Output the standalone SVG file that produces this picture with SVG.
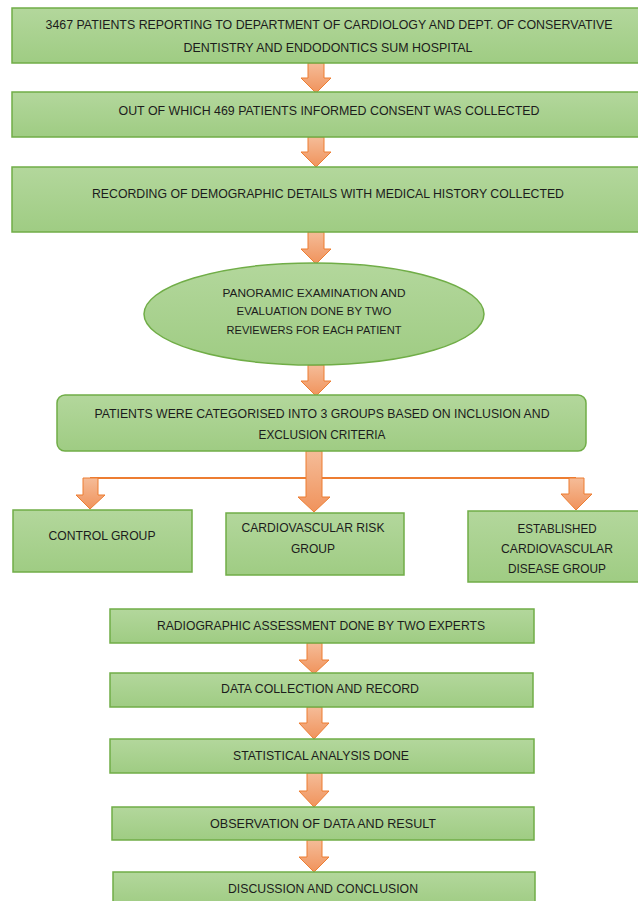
<svg xmlns="http://www.w3.org/2000/svg" width="638" height="901" viewBox="0 0 638 901">
<defs>
<linearGradient id="g" x1="0" y1="0" x2="0" y2="1"><stop offset="0" stop-color="#b3d79c"/><stop offset="1" stop-color="#9fcc83"/></linearGradient>
<linearGradient id="o" x1="0" y1="0" x2="0" y2="1"><stop offset="0" stop-color="#f5bc98"/><stop offset="1" stop-color="#f0935c"/></linearGradient>
<style>
.n{fill:url(#g);stroke:#70ad47;stroke-width:1.5}
.a{fill:url(#o);stroke:#ed7d31;stroke-width:1}
.t{font-family:"Liberation Sans",Arial,sans-serif;font-size:13px;fill:#1c1c1c;text-anchor:middle}
.s{font-size:11.5px}
</style>
</defs>
<rect width="638" height="901" fill="#fff"/>
<g id="connectors">
<path class="a" d="M308 63 H324 V78 H331 L316 93 L301 78 H308 Z"/>
<path class="a" d="M308 137 H324 V152 H331 L316 167 L301 152 H308 Z"/>
<path class="a" d="M308 232 H324 V249 H331 L316 264 L301 249 H308 Z"/>
<path class="a" d="M308 365 H324 V381 H331 L316 396 L301 381 H308 Z"/>
<line x1="90" y1="478" x2="576" y2="478" stroke="#ed7d31" stroke-width="2"/>
<path class="a" d="M306 451 H322 V497 H330 L314 512 L298 497 H306 Z"/>
<path class="a" d="M83 478 H98 V495 H105 L90 509 L76 495 H83 Z"/>
<path class="a" d="M569 478 H584 V494 H592 L576 510 L561 494 H569 Z"/>
<path class="a" d="M307 643 H322 V660 H329 L314 674 L299 660 H307 Z"/>
<path class="a" d="M307 707 H322 V723 H329 L314 739 L299 723 H307 Z"/>
<path class="a" d="M307 773 H322 V791 H329 L314 807 L299 791 H307 Z"/>
<path class="a" d="M307 840 H322 V857 H329 L314 872 L299 857 H307 Z"/>
</g>
<g id="n1"><rect class="n" x="12" y="8" width="630" height="55"/>
<text class="t" x="329" y="29" textLength="567" lengthAdjust="spacingAndGlyphs">3467 PATIENTS REPORTING TO DEPARTMENT OF CARDIOLOGY AND DEPT. OF CONSERVATIVE</text>
<text class="t" x="328" y="52" textLength="289" lengthAdjust="spacingAndGlyphs">DENTISTRY AND ENDODONTICS SUM HOSPITAL</text></g>
<g id="n2"><rect class="n" x="12" y="92" width="630" height="45"/>
<text class="t" x="329" y="115" textLength="421" lengthAdjust="spacingAndGlyphs">OUT OF WHICH 469 PATIENTS INFORMED CONSENT WAS COLLECTED</text></g>
<g id="n3"><rect class="n" x="12" y="167" width="630" height="65"/>
<text class="t" x="328" y="198" textLength="472" lengthAdjust="spacingAndGlyphs">RECORDING OF DEMOGRAPHIC DETAILS WITH MEDICAL HISTORY COLLECTED</text></g>
<g id="n4"><ellipse class="n" cx="314" cy="314" rx="170" ry="51"/>
<text class="t s" x="314" y="297" textLength="183" lengthAdjust="spacingAndGlyphs">PANORAMIC EXAMINATION AND</text>
<text class="t s" x="314" y="315" textLength="155" lengthAdjust="spacingAndGlyphs">EVALUATION DONE BY TWO</text>
<text class="t s" x="314" y="334" textLength="175" lengthAdjust="spacingAndGlyphs">REVIEWERS FOR EACH PATIENT</text></g>
<g id="n5"><rect class="n" x="57" y="395" width="529" height="56" rx="8"/>
<text class="t" x="322" y="418" textLength="455" lengthAdjust="spacingAndGlyphs">PATIENTS WERE CATEGORISED INTO 3 GROUPS BASED ON INCLUSION AND</text>
<text class="t" x="322" y="439" textLength="127" lengthAdjust="spacingAndGlyphs">EXCLUSION CRITERIA</text></g>
<g id="n6"><rect class="n" x="13" y="510" width="179" height="62"/>
<text class="t" x="102" y="540" textLength="107" lengthAdjust="spacingAndGlyphs">CONTROL GROUP</text></g>
<g id="n7"><rect class="n" x="226" y="513" width="178" height="62"/>
<text class="t" x="313" y="532" textLength="143" lengthAdjust="spacingAndGlyphs">CARDIOVASCULAR RISK</text>
<text class="t" x="313" y="553" textLength="44" lengthAdjust="spacingAndGlyphs">GROUP</text></g>
<g id="n8"><rect class="n" x="468" y="511" width="174" height="71"/>
<text class="t" x="557" y="533" textLength="79" lengthAdjust="spacingAndGlyphs">ESTABLISHED</text>
<text class="t" x="557" y="553" textLength="112" lengthAdjust="spacingAndGlyphs">CARDIOVASCULAR</text>
<text class="t" x="557" y="573" textLength="98" lengthAdjust="spacingAndGlyphs">DISEASE GROUP</text></g>
<g id="n9"><rect class="n" x="110" y="609" width="424" height="34"/>
<text class="t" x="321" y="630" textLength="328" lengthAdjust="spacingAndGlyphs">RADIOGRAPHIC ASSESSMENT  DONE BY TWO EXPERTS</text></g>
<g id="n10"><rect class="n" x="110" y="673" width="423" height="34"/>
<text class="t" x="320" y="693" textLength="198" lengthAdjust="spacingAndGlyphs">DATA COLLECTION AND RECORD</text></g>
<g id="n11"><rect class="n" x="110" y="739" width="424" height="34"/>
<text class="t" x="321" y="760" textLength="176" lengthAdjust="spacingAndGlyphs">STATISTICAL ANALYSIS DONE</text></g>
<g id="n12"><rect class="n" x="112" y="807" width="422" height="33"/>
<text class="t" x="323" y="828" textLength="226" lengthAdjust="spacingAndGlyphs">OBSERVATION OF DATA AND RESULT</text></g>
<g id="n13"><rect class="n" x="113" y="872" width="422" height="34"/>
<text class="t" x="323" y="893" textLength="190" lengthAdjust="spacingAndGlyphs">DISCUSSION AND CONCLUSION</text></g>
</svg>
